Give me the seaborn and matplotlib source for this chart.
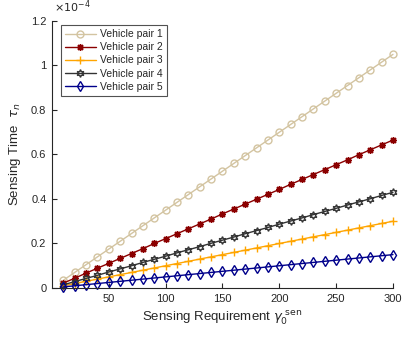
import matplotlib
matplotlib.use("Agg")
import matplotlib.pyplot as plt
from matplotlib.ticker import FuncFormatter
import seaborn as sns

# Data (sensing time in units of 1e-4 s)

requirement = [10, 20, 30, 40, 50, 60, 70, 80, 90, 100,
               110, 120, 130, 140, 150, 160, 170, 180, 190, 200,
               210, 220, 230, 240, 250, 260, 270, 280, 290, 300]

pair1 = [0.035, 0.070, 0.105, 0.140, 0.175, 0.210, 0.245, 0.280, 0.315, 0.350,
         0.385, 0.420, 0.455, 0.490, 0.525, 0.560, 0.595, 0.630, 0.665, 0.700,
         0.735, 0.770, 0.805, 0.840, 0.875, 0.910, 0.945, 0.980, 1.015, 1.050]
pair2 = [0.022, 0.044, 0.067, 0.089, 0.111, 0.133, 0.155, 0.177, 0.200, 0.222,
         0.244, 0.266, 0.288, 0.310, 0.333, 0.355, 0.377, 0.399, 0.421, 0.443,
         0.466, 0.488, 0.510, 0.532, 0.554, 0.576, 0.599, 0.621, 0.643, 0.665]
pair3 = [0.010, 0.020, 0.030, 0.040, 0.050, 0.060, 0.070, 0.080, 0.090, 0.100,
         0.110, 0.120, 0.130, 0.140, 0.150, 0.160, 0.170, 0.180, 0.190, 0.200,
         0.210, 0.220, 0.230, 0.240, 0.250, 0.260, 0.270, 0.280, 0.290, 0.300]
pair4 = [0.014, 0.029, 0.043, 0.057, 0.072, 0.086, 0.100, 0.115, 0.129, 0.143,
         0.158, 0.172, 0.186, 0.201, 0.215, 0.229, 0.244, 0.258, 0.272, 0.287,
         0.301, 0.315, 0.330, 0.344, 0.358, 0.373, 0.387, 0.401, 0.416, 0.430]
pair5 = [0.005, 0.010, 0.015, 0.020, 0.025, 0.030, 0.035, 0.040, 0.045, 0.050,
         0.055, 0.060, 0.065, 0.070, 0.075, 0.080, 0.085, 0.090, 0.095, 0.100,
         0.105, 0.110, 0.115, 0.120, 0.125, 0.130, 0.135, 0.140, 0.145, 0.150]

series_names = ["Vehicle pair 1", "Vehicle pair 2", "Vehicle pair 3",
                "Vehicle pair 4", "Vehicle pair 5"]
series_values = [pair1, pair2, pair3, pair4, pair5]

SCALE = 1e-4

# Styles

colors = ["#D3C4A1", "#8B0000", "#FFA500", "#333333", "#00008B"]
markers = ["o", (8, 2, 0), "+", (6, 1, 0), "d"]
marker_faces = ["none", "#8B0000", "none", "none", "none"]
marker_sizes = [5, 5, 5.5, 5.5, 5.5]

sns.set_style("ticks")
plt.rcParams["font.family"] = ["Liberation Sans", "DejaVu Sans"]
plt.rcParams["mathtext.fontset"] = "dejavusans"

text_color = "#262626"

fig = plt.figure(figsize=(4.04, 3.37), dpi=100)
ax = fig.add_axes([0.1287, 0.1454, 0.844, 0.7923])

for name, vals, c, m, fc, ms in zip(series_names, series_values, colors,
                                    markers, marker_faces, marker_sizes):
    sns.lineplot(
        x=requirement,
        y=[v * SCALE for v in vals],
        ax=ax,
        color=c,
        marker=m,
        markersize=ms,
        markerfacecolor=fc,
        markeredgecolor=c,
        markeredgewidth=1.0,
        linewidth=1.0,
        label=name,
        clip_on=False,
    )

ax.set_xlim(0, 300)
ax.set_ylim(0, 1.2e-4)
ax.set_xticks([50, 100, 150, 200, 250, 300])
ax.set_yticks([i * 0.2e-4 for i in range(7)])
ax.yaxis.set_major_formatter(FuncFormatter(lambda v, p: f"{v / SCALE:g}"))

ax.tick_params(direction="in", length=3.5, width=0.8, labelsize=8,
               colors=text_color, pad=4)
for side in ["left", "bottom"]:
    ax.spines[side].set_color(text_color)
    ax.spines[side].set_linewidth(0.8)
sns.despine(ax=ax)

ax.set_xlabel(r"Sensing Requirement $\gamma_0^{\ \mathrm{sen}}$",
              fontsize=9.5, color=text_color, labelpad=4)
ax.set_ylabel(r"Sensing Time  $\tau_n$", fontsize=9.5, color=text_color,
              labelpad=6)

fig.text(0.134, 0.955, r"$\times 10^{-4}$", fontsize=8, color=text_color,
         ha="left", va="bottom")

leg = ax.legend(loc="upper left", bbox_to_anchor=(0.025, 0.985), fontsize=7.5,
                frameon=True, fancybox=False, edgecolor=text_color,
                borderpad=0.4, labelspacing=0.3, handlelength=3.0,
                handletextpad=0.4, borderaxespad=0)
leg.get_frame().set_linewidth(0.8)

fig.savefig("out.png", dpi=100)
